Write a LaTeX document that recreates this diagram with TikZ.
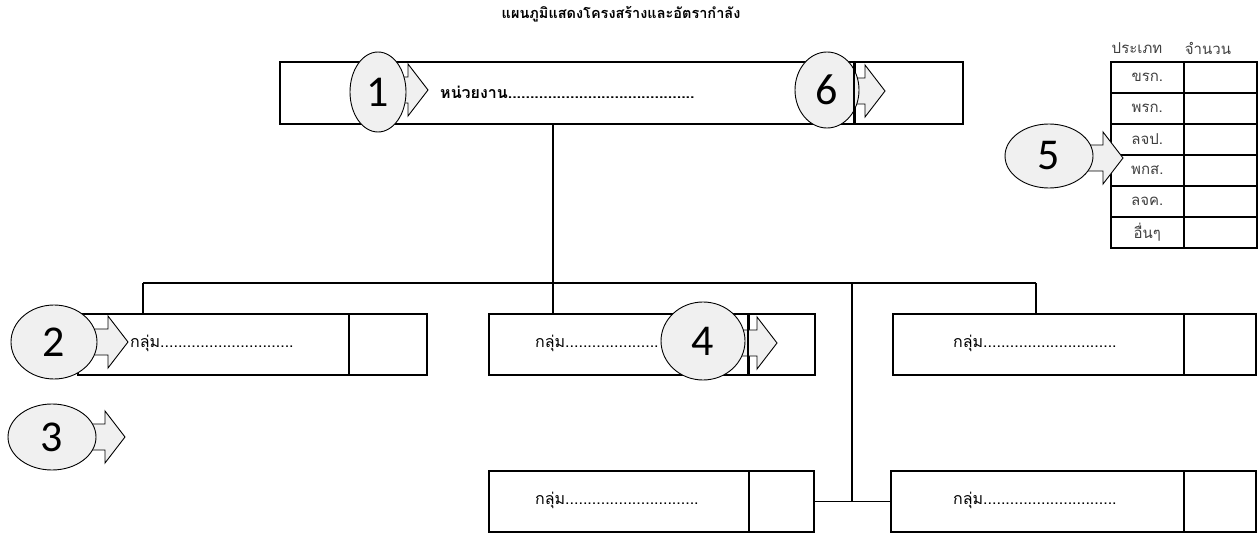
\documentclass[tikz,border=0pt]{standalone}
\usepackage{fontspec}
\usetikzlibrary{shapes.geometric}
\newfontfamily\thai[Script=Thai]{Loma}
\newfontfamily\numfont{Carlito}
\definecolor{calloutgray}{HTML}{F0F0F0}
\definecolor{tabletext}{HTML}{404040}

% pointer arrow of a numbered callout: tip x, tip y, tail x
\newcommand\pointerarrow[3]{%
  \filldraw[pointer] (#3,#2-13) -- (#1-20,#2-13) -- (#1-20,#2-26) -- (#1,#2)
    -- (#1-20,#2+26) -- (#1-20,#2+13) -- (#3,#2+13) -- cycle;}

\newcommand\dotline{..............................}

\begin{document}
\begin{tikzpicture}[x=1pt,y=-1pt,
  frame/.style={draw, line width=1.6pt, inner sep=0pt, anchor=north west},
  wire/.style={line width=1.6pt},
  tag/.style={ellipse, draw, line width=0.9pt, fill=calloutgray, inner sep=0pt,
    font=\numfont\fontsize{44}{44}\selectfont},
  pointer/.style={draw, line width=0.9pt, fill=calloutgray},
  boxtext/.style={anchor=west, inner sep=0pt, font=\thai\fontsize{16}{18}\selectfont},
  cell/.style={draw, line width=1.6pt, minimum width=73pt, minimum height=31pt,
    inner sep=0pt, anchor=north west, text=tabletext, font=\thai\fontsize{15}{17}\selectfont},
  head/.style={inner sep=0pt, text=tabletext, font=\thai\fontsize{15}{17}\selectfont}]
\useasboundingbox (0,0) rectangle (1260,534);

% title
\node[inner sep=0pt, font=\thai\bfseries\fontsize{14.5}{16}\selectfont] (title) at (621,14)
  {แผนภูมิแสดงโครงสร้างและอัตรากำลัง};

% unit box
\node[frame, minimum width=575pt, minimum height=62pt] (unit) at (279,61) {};
\node[frame, minimum width=108pt, minimum height=62pt] (unitside) at (854,61) {};
\node[boxtext, font=\thai\bfseries\fontsize{16}{18}\selectfont] (unittext) at (440,92)
  {หน่วยงาน..........................................};

% group boxes, upper row
\node[frame, minimum width=271pt, minimum height=61pt] (grpL) at (77,313) {};
\node[frame, minimum width=78pt, minimum height=61pt] (grpLside) at (348,313) {};
\node[frame, minimum width=260pt, minimum height=61pt] (grpM) at (488,313) {};
\node[frame, minimum width=66pt, minimum height=61pt] (grpMside) at (748,313) {};
\node[frame, minimum width=291pt, minimum height=61pt] (grpR) at (892,313) {};
\node[frame, minimum width=72pt, minimum height=61pt] (grpRside) at (1183,313) {};

% group boxes, lower row
\node[frame, minimum width=260pt, minimum height=61pt] (lowL) at (488,470) {};
\node[frame, minimum width=65pt, minimum height=61pt] (lowLside) at (748,470) {};
\node[frame, minimum width=293pt, minimum height=61pt] (lowR) at (890,470) {};
\node[frame, minimum width=72pt, minimum height=61pt] (lowRside) at (1183,470) {};

\node[boxtext] (grpLtext) at (130,343) {กลุ่ม\dotline};
\node[boxtext] (grpMtext) at (535,343) {กลุ่ม.....................};
\node[boxtext] (grpRtext) at (953,343) {กลุ่ม\dotline};
\node[boxtext] (lowLtext) at (535,500) {กลุ่ม\dotline};
\node[boxtext] (lowRtext) at (953,500) {กลุ่ม\dotline};

% connectors
\coordinate (busL) at (143,283);
\coordinate (busC) at (553,283);
\coordinate (busM) at (852,283);
\coordinate (busR) at (1036,283);
\draw[wire] (unit.south -| busC) -- (busC);
\draw[wire] (busL) -- (busR);
\draw[wire] (busL) -- (busL |- grpL.north);
\draw[wire] (busC) -- (busC |- grpM.north);
\draw[wire] (busR) -- (busR |- grpR.north);
\draw[wire] (busM) -- (busM |- lowR.west);
\draw[wire] (lowLside.east) -- (lowR.west);

% staff table
\node[head] (hdtype) at (1137,48) {ประเภท};
\node[head] (hdcount) at (1208,48) {จำนวน};
\foreach \lbl [count=\i] in {ขรก., พรก., ลจป., พกส., ลจค., อื่นๆ} {
  \node[cell] (type\i) at (1110,61+31*\i-31) {\lbl};
  \node[cell] (count\i) at (1183,61+31*\i-31) {};
}

% numbered callouts
\pointerarrow{428}{90}{385}
\node[tag, minimum width=56pt, minimum height=80pt] (c1) at (378,92) {1};
\pointerarrow{885}{91}{835}
\node[tag, minimum width=64pt, minimum height=76pt] (c6) at (827,90) {6};
\pointerarrow{128}{342}{70}
\node[tag, minimum width=86pt, minimum height=74pt] (c2) at (54,342) {2};
\pointerarrow{125}{437}{70}
\node[tag, minimum width=88pt, minimum height=66pt] (c3) at (52,437) {3};
\pointerarrow{777}{343}{720}
\node[tag, minimum width=84pt, minimum height=78pt] (c4) at (703,341) {4};
\pointerarrow{1123}{158}{1070}
\node[tag, minimum width=88pt, minimum height=64pt] (c5) at (1049,156) {5};

% cell dividers stay visible over the callouts
\draw[wire] (unitside.north west) -- (unitside.south west);
\draw[wire] (grpMside.north west) -- (grpMside.south west);
\draw[wire] (type3.north east) -- (type4.south east);
\end{tikzpicture}
\end{document}
